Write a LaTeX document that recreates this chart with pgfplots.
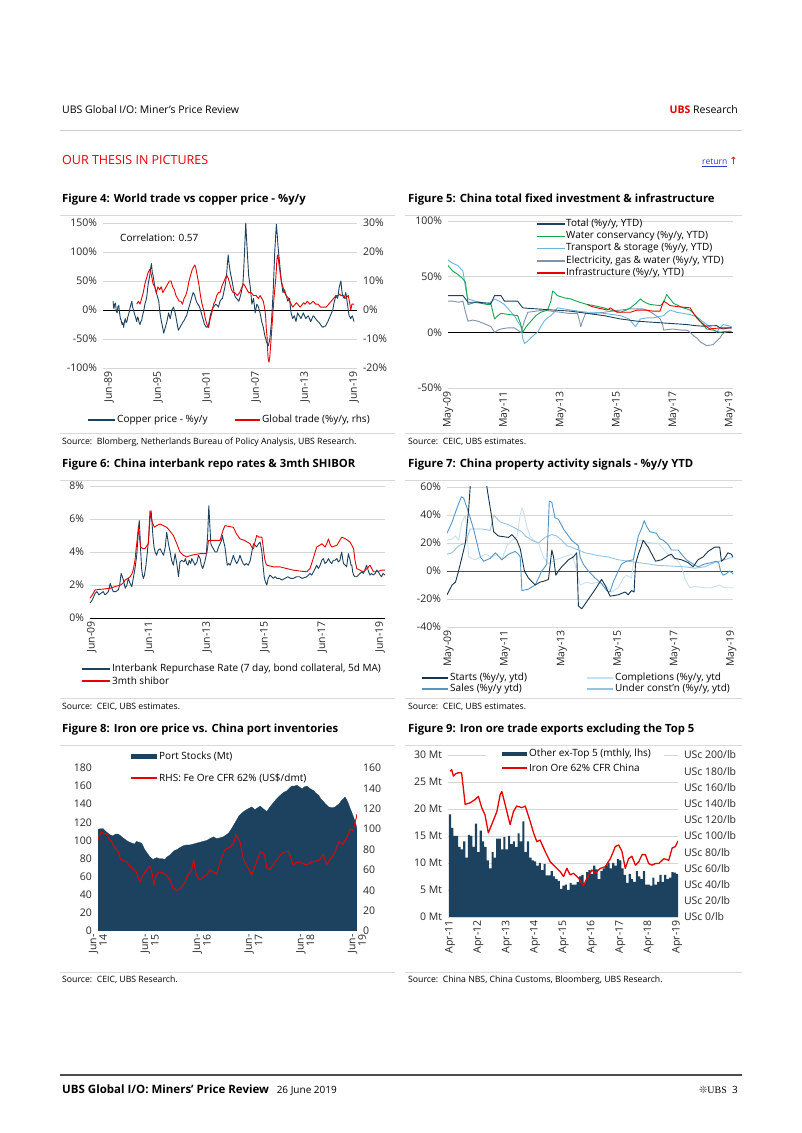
\documentclass[border=0pt]{standalone}
\usepackage{fontspec}
\setmainfont{Open Sans}
\newfontfamily\dejavu{DejaVu Sans}
\newfontfamily\serifub{Liberation Serif}
\usepackage{pgfplots}
\pgfplotsset{compat=1.18}
\definecolor{ubsred}{RGB}{230,0,0}
\definecolor{navy}{RGB}{29,66,96}
\definecolor{cgreen}{RGB}{20,165,80}
\definecolor{ctrans}{RGB}{110,180,225}
\definecolor{celec}{RGB}{130,145,170}
\definecolor{cstarts}{RGB}{22,52,78}
\definecolor{csales}{RGB}{85,150,200}
\definecolor{ccompl}{RGB}{200,225,242}
\definecolor{cunder}{RGB}{150,195,228}
\definecolor{linkblue}{RGB}{40,60,200}
\pgfplotsset{
 base/.style={scale only axis, anchor=south west, axis lines*=left, axis line style={draw=none},
   major tick length=0pt, tick label style={font=\fontsize{10.5}{12}\selectfont, text=black!85},
   xticklabel style={rotate=90, anchor=east}, yticklabel style={xshift=-2.5pt},
   major grid style={line width=0.5pt, black!16},
   every axis plot/.append style={line width=0.9pt, line join=round, mark=none}},
 rightax/.style={axis y line*=right, axis x line=none, xtick=\empty, yticklabel style={xshift=5pt}},
 zeroline/.style={extra y ticks={0}, extra y tick labels={}, extra y tick style={grid=major, major grid style={#1, line width=0.9pt}}},
}
\begin{document}
\begin{tikzpicture}
\begin{scope}[x=1pt,y=1pt]
\path[use as bounding box] (0,0) rectangle (802,1133);
\fill[white] (0,0) rectangle (802,1133);
% header
\node[anchor=base west, inner sep=0, font=\fontsize{10.5}{12}\selectfont] at (62,1019) {UBS Global I/O: Miner's Price Review};
\node[anchor=base east, inner sep=0, font=\fontsize{10.5}{12}\selectfont] at (738,1019) {\textcolor{ubsred}{\textbf{UBS}} Research};
\draw[black!20, line width=0.6pt] (60,1003) -- (742,1003);
\node[anchor=base west, inner sep=0, font=\fontsize{12.5}{14}\selectfont, text=ubsred] at (62,968) {OUR THESIS IN PICTURES};
\node[anchor=base east, inner sep=0, font=\fontsize{8.5}{10}\selectfont] at (738,968) {\textcolor{linkblue}{\underline{return}} \textcolor{ubsred}{\dejavu\fontsize{10}{11}\selectfont ↑}};
% titles
\foreach \xx/\yy/\tt in {62/930/{Figure 4: World trade vs copper price - \%y/y},408/930/{Figure 5: China total fixed investment \& infrastructure},62/665/{Figure 6: China interbank repo rates \& 3mth SHIBOR},408/665/{Figure 7: China property activity signals - \%y/y YTD},62/400/{Figure 8: Iron ore price vs. China port inventories},408/400/{Figure 9: Iron ore trade exports excluding the Top 5}}
  {\node[anchor=base west, inner sep=0, font=\bfseries\fontsize{11.3}{13}\selectfont] at (\xx,\yy) {\tt};}
\foreach \yy in {918,700,653,435,388,161}{
  \draw[black!15, line width=0.6pt] (60,\yy) -- (395,\yy);
  \draw[black!15, line width=0.6pt] (405,\yy) -- (742,\yy);}
\begin{scope}[every node/.style={anchor=base west, inner sep=0, font=\fontsize{8.7}{10}\selectfont}]
\node at (62,688) {Source:\ \ Blomberg, Netherlands Bureau of Policy Analysis, UBS Research.};
\node at (408,688) {Source:\ \ CEIC, UBS estimates.};
\node at (62,423) {Source:\ \ CEIC, UBS estimates.};
\node at (408,423) {Source:\ \ CEIC, UBS estimates.};
\node at (62,150) {Source:\ \ CEIC, UBS Research.};
\node at (408,150) {Source:\ \ China NBS, China Customs, Bloomberg, UBS Research.};
\end{scope}
% footer
\draw[black!70, line width=1.3pt] (60,58) -- (742,58);
\node[anchor=base west, inner sep=0] at (62,39) {{\bfseries\fontsize{11.5}{13}\selectfont UBS Global I/O: Miners' Price Review}\ \ \ {\fontsize{10}{12}\selectfont 26 June 2019}};
\node[anchor=base east, inner sep=0, font=\fontsize{10}{12}\selectfont] at (738,39) {{\dejavu\fontsize{10}{11}\selectfont\textcolor{black!70}{❊}}{\serifub UBS}\ \ 3};
\end{scope}

%================ Figure 4 =================
\begin{axis}[base, at={(103pt,765pt)}, width=254pt, height=145pt,
  xmin=1988.77, xmax=2019.87, ymin=-100, ymax=150,
  ytick={-100,-50,0,50,100,150}, yticklabels={-100\%,-50\%,0\%,50\%,100\%,150\%},
  xtick={1989.5,1995.5,2001.5,2007.5,2013.5,2019.5}, xticklabels={Jun-89,Jun-95,Jun-01,Jun-07,Jun-13,Jun-19},
  ymajorgrids, zeroline=black]
\addplot[navy] coordinates {
(1990.0,15)(1990.1,2)(1990.2,10)(1990.3,12)(1990.4,-2)(1990.5,-5)(1990.6,6)(1990.7,8)(1990.8,-5)(1990.9,-15)(1991.0,-18)(1991.1,-25)(1991.2,-22)(1991.3,-30)(1991.4,-20)(1991.5,-15)(1991.6,-22)(1991.7,-20)(1991.8,-12)(1991.9,-8)(1992.0,-2)(1992.1,5)(1992.2,10)(1992.3,15)(1992.4,5)(1992.5,0)(1992.6,-5)(1992.7,-10)(1992.8,-15)(1992.9,-20)(1993.0,-12)(1993.1,-15)(1993.2,-22)(1993.3,-25)(1993.4,-20)(1993.5,-18)(1993.6,-10)(1993.7,-5)(1993.8,2)(1993.9,10)(1994.0,15)(1994.1,20)(1994.2,32)(1994.3,45)(1994.4,52)(1994.5,60)(1994.6,72)(1994.7,80)(1994.8,65)(1994.9,60)(1995.0,50)(1995.1,42)(1995.2,35)(1995.3,30)(1995.4,25)(1995.5,20)(1995.6,15)(1995.7,0)(1995.8,-10)(1995.9,-18)(1996.0,-25)(1996.1,-32)(1996.2,-40)(1996.3,-35)(1996.4,-30)(1996.5,-25)(1996.6,-20)(1996.7,-12)(1996.8,-5)(1996.9,-10)(1997.0,-15)(1997.1,-8)(1997.2,0)(1997.3,2)(1997.4,5)(1997.5,0)(1997.6,-5)(1997.7,-12)(1997.8,-20)(1997.9,-28)(1998.0,-35)(1998.1,-32)(1998.2,-30)(1998.3,-27)(1998.4,-25)(1998.5,-22)(1998.6,-20)(1998.7,-18)(1998.8,-15)(1998.9,-12)(1999.0,-10)(1999.1,-5)(1999.2,0)(1999.3,5)(1999.4,10)(1999.5,15)(1999.6,20)(1999.7,25)(1999.8,30)(1999.9,28)(2000.0,25)(2000.1,20)(2000.2,15)(2000.3,12)(2000.4,10)(2000.5,8)(2000.6,5)(2000.7,0)(2000.8,-5)(2000.9,-10)(2001.0,-15)(2001.1,-20)(2001.2,-25)(2001.35,-28)(2001.5,-30)(2001.6,-28)(2001.7,-25)(2001.8,-18)(2001.9,-10)(2002.0,-5)(2002.1,0)(2002.2,3)(2002.3,5)(2002.45,8)(2002.6,10)(2002.75,8)(2002.9,5)(2003.0,10)(2003.1,15)(2003.25,18)(2003.4,20)(2003.55,30)(2003.7,40)(2003.8,50)(2003.9,60)(2004.0,80)(2004.1,95)(2004.2,80)(2004.3,70)(2004.4,62)(2004.5,55)(2004.6,48)(2004.7,40)(2004.8,32)(2004.9,25)(2005.0,22)(2005.1,20)(2005.25,18)(2005.4,15)(2005.55,22)(2005.7,30)(2005.8,38)(2005.9,45)(2006.0,70)(2006.1,100)(2006.17,125)(2006.25,150)(2006.32,130)(2006.4,110)(2006.5,85)(2006.6,60)(2006.7,50)(2006.8,40)(2006.9,25)(2007.0,10)(2007.1,15)(2007.2,20)(2007.3,8)(2007.4,-5)(2007.5,2)(2007.6,10)(2007.7,8)(2007.8,5)(2007.9,0)(2008.0,-5)(2008.1,-12)(2008.2,-20)(2008.3,-25)(2008.4,-30)(2008.5,-38)(2008.6,-45)(2008.7,-50)(2008.8,-55)(2008.9,-58)(2009.0,-62)(2009.1,-56)(2009.2,-50)(2009.3,-35)(2009.4,-20)(2009.5,5)(2009.6,30)(2009.7,65)(2009.8,100)(2009.9,125)(2010.0,148)(2010.1,130)(2010.2,110)(2010.3,95)(2010.4,80)(2010.5,65)(2010.6,50)(2010.7,40)(2010.8,30)(2010.9,32)(2011.0,35)(2011.1,30)(2011.2,25)(2011.3,20)(2011.4,15)(2011.5,18)(2011.6,20)(2011.7,8)(2011.8,-5)(2011.9,-10)(2012.0,-15)(2012.1,-12)(2012.2,-10)(2012.3,-15)(2012.4,-20)(2012.5,-12)(2012.6,-5)(2012.7,-8)(2012.8,-10)(2012.9,-12)(2013.0,-15)(2013.15,-10)(2013.3,-5)(2013.45,-10)(2013.6,-15)(2013.75,-12)(2013.9,-10)(2014.05,-15)(2014.2,-20)(2014.35,-15)(2014.5,-10)(2014.65,-12)(2014.8,-15)(2014.95,-18)(2015.1,-20)(2015.25,-22)(2015.4,-25)(2015.55,-28)(2015.7,-30)(2015.85,-28)(2016.0,-28)(2016.15,-24)(2016.3,-20)(2016.45,-15)(2016.6,-10)(2016.75,-5)(2016.9,0)(2017.0,8)(2017.1,15)(2017.2,20)(2017.3,25)(2017.4,22)(2017.5,20)(2017.6,30)(2017.7,40)(2017.8,45)(2017.9,50)(2018.0,35)(2018.1,25)(2018.2,22)(2018.3,20)(2018.4,25)(2018.5,30)(2018.6,20)(2018.7,10)(2018.8,0)(2018.9,-10)(2019.0,-12)(2019.1,-15)(2019.2,-12)(2019.3,-10)(2019.4,-15)(2019.5,-20)};
\end{axis}
\begin{axis}[base, rightax, at={(103pt,765pt)}, width=254pt, height=145pt,
  xmin=1988.77, xmax=2019.87, ymin=-20, ymax=30,
  ytick={-20,-10,0,10,20,30}, yticklabels={-20\%,-10\%,0\%,10\%,20\%,30\%}]
\addplot[ubsred] coordinates {
(1992.9,2)(1993.0,2.5)(1993.1,3)(1993.2,2.5)(1993.3,2)(1993.4,3)(1993.5,4)(1993.6,5)(1993.7,6)(1993.8,7.5)(1993.9,9)(1994.0,10)(1994.1,11)(1994.2,12)(1994.3,13)(1994.4,13.5)(1994.5,14)(1994.6,13)(1994.7,12)(1994.8,10.5)(1994.9,9)(1995.0,8.5)(1995.1,8)(1995.2,7)(1995.3,6)(1995.4,7)(1995.5,8)(1995.6,7.5)(1995.7,7)(1995.8,7.5)(1995.9,8)(1996.0,7)(1996.1,6)(1996.2,6.5)(1996.3,7)(1996.4,7.5)(1996.5,8)(1996.6,8.5)(1996.7,9)(1996.8,9.5)(1996.9,10)(1997.0,10)(1997.1,10)(1997.2,9)(1997.3,8)(1997.4,7.5)(1997.5,7)(1997.6,6)(1997.7,5)(1997.8,4.5)(1997.9,4)(1998.0,3.5)(1998.1,3)(1998.2,3)(1998.3,3)(1998.4,2.5)(1998.5,2)(1998.6,3)(1998.7,4)(1998.8,4.5)(1998.9,5)(1999.0,6)(1999.1,7)(1999.2,8.5)(1999.3,10)(1999.4,11)(1999.5,12)(1999.6,13)(1999.7,14)(1999.8,14.5)(1999.9,15)(2000.0,15.5)(2000.1,15)(2000.2,13.5)(2000.3,12)(2000.4,10.5)(2000.5,9)(2000.6,7)(2000.7,5)(2000.8,3.5)(2000.9,2)(2001.0,1)(2001.1,0)(2001.2,-1.5)(2001.3,-3)(2001.4,-4)(2001.5,-5)(2001.6,-5.5)(2001.7,-6)(2001.8,-4.5)(2001.9,-3)(2002.0,-2)(2002.1,-1)(2002.2,0.5)(2002.3,2)(2002.4,2.5)(2002.5,3)(2002.6,4)(2002.7,5)(2002.8,5.5)(2002.9,6)(2003.0,6)(2003.1,6)(2003.2,7)(2003.3,8)(2003.45,9)(2003.6,10)(2003.75,11)(2003.9,12)(2004.0,11.5)(2004.1,11)(2004.2,10)(2004.3,9)(2004.4,8)(2004.5,7)(2004.6,6.5)(2004.7,6)(2004.8,6)(2004.9,6)(2005.05,5.5)(2005.2,5)(2005.35,5.5)(2005.5,6)(2005.65,7)(2005.8,8)(2005.9,8.5)(2006.0,9)(2006.1,8.5)(2006.2,8)(2006.3,7.5)(2006.4,7)(2006.5,6.5)(2006.6,6)(2006.75,6)(2006.9,6)(2007.05,5.5)(2007.2,5)(2007.35,5)(2007.5,5)(2007.65,4.5)(2007.8,4)(2007.9,4.5)(2008.0,5)(2008.1,4.5)(2008.2,4)(2008.3,3.5)(2008.4,3)(2008.5,1.5)(2008.6,0)(2008.7,-3)(2008.75,-6)(2008.85,-9)(2008.9,-12)(2008.95,-15)(2009.0,-17)(2009.1,-18)(2009.2,-16)(2009.3,-12)(2009.35,-10)(2009.45,-6)(2009.5,-4)(2009.6,0)(2009.7,4)(2009.8,7)(2009.9,10)(2010.0,14)(2010.05,17)(2010.15,19)(2010.2,19)(2010.3,16)(2010.4,14)(2010.5,12)(2010.6,10)(2010.7,9)(2010.8,8)(2010.9,7)(2011.0,6)(2011.1,5.5)(2011.2,5)(2011.35,4.5)(2011.5,4)(2011.65,3)(2011.8,2)(2011.9,1.5)(2012.0,1)(2012.15,1.5)(2012.3,2)(2012.45,2.5)(2012.6,2)(2012.75,1.5)(2012.9,1)(2013.05,1.5)(2013.2,2)(2013.35,2.5)(2013.5,2)(2013.65,2.5)(2013.8,3)(2013.95,2.5)(2014.1,2)(2014.3,2.5)(2014.5,3)(2014.65,2.5)(2014.8,2)(2014.95,2)(2015.1,2)(2015.25,1.5)(2015.4,1)(2015.6,1)(2015.8,1)(2015.95,1)(2016.1,1)(2016.25,1.5)(2016.4,2)(2016.55,2.5)(2016.7,3)(2016.85,3.5)(2017.0,4)(2017.15,4.5)(2017.3,5)(2017.45,5)(2017.6,5)(2017.75,5.5)(2017.9,5)(2018.05,5)(2018.2,5)(2018.35,4.5)(2018.5,4)(2018.65,4.5)(2018.8,5)(2018.9,3.5)(2019.0,2)(2019.05,1)(2019.1,0)(2019.18,1)(2019.25,2)(2019.4,2)(2019.5,2)};
\end{axis}

%================ Figure 5 =================
\begin{axis}[base, at={(448pt,745pt)}, width=285pt, height=167pt,
  xmin=2009.33, xmax=2019.44, ymin=-50, ymax=100,
  ytick={-50,0,50,100}, yticklabels={-50\%,0\%,50\%,100\%},
  xtick={2009.33,2011.33,2013.33,2015.33,2017.33,2019.33}, xticklabels={May-09,May-11,May-13,May-15,May-17,May-19},
  ymajorgrids, zeroline=black]
\addplot[celec] coordinates {(2009.33,28)(2009.5,28)(2009.7,27)(2009.86,28)(2009.95,18)(2010.04,10)(2010.2,11)(2010.39,10)(2010.6,8)(2010.86,5)(2010.98,0)(2011.1,2)(2011.21,3)(2011.45,4)(2011.68,4)(2011.92,0)(2012.04,10)(2012.16,18)(2012.45,19)(2012.74,20)(2013.0,19)(2013.33,18)(2013.6,17)(2013.92,17)(2014.0,10)(2014.04,5)(2014.1,10)(2014.21,17)(2014.5,17)(2014.86,18)(2015.15,19)(2015.45,20)(2015.75,21)(2016.04,21)(2016.25,21)(2016.39,20)(2016.6,17)(2016.86,12)(2016.95,6)(2016.98,2)(2017.3,3)(2017.6,2)(2017.80,2)(2017.92,0)(2018.04,-3)(2018.15,-5)(2018.3,-9)(2018.51,-12)(2018.74,-11)(2018.85,-8)(2018.98,-5)(2019.05,-2)(2019.15,0)(2019.3,1)(2019.39,1)};
\addplot[ctrans] coordinates {(2009.33,65)(2009.5,62)(2009.68,60)(2009.86,55)(2009.95,40)(2010.04,30)(2010.3,28)(2010.5,27)(2010.74,25)(2010.98,30)(2011.15,28)(2011.33,25)(2011.5,20)(2011.68,15)(2011.8,10)(2011.92,5)(2011.98,-5)(2012.04,-10)(2012.15,-8)(2012.27,-5)(2012.4,-2)(2012.51,0)(2012.62,5)(2012.74,10)(2012.86,13)(2012.98,15)(2013.1,18)(2013.21,22)(2013.45,21)(2013.68,20)(2013.95,19)(2014.27,18)(2014.55,18)(2014.86,17)(2015.15,16)(2015.45,15)(2015.75,12)(2015.98,5)(2016.08,9)(2016.15,12)(2016.4,13)(2016.62,13)(2016.8,14)(2016.98,15)(2017.1,18)(2017.21,20)(2017.45,18)(2017.68,17)(2017.9,16)(2018.15,14)(2018.35,10)(2018.62,5)(2018.75,2)(2018.86,0)(2018.98,4)(2019.09,7)(2019.25,6)(2019.39,5)};
\addplot[cgreen] coordinates {(2009.33,60)(2009.5,55)(2009.68,52)(2009.86,48)(2009.95,45)(2010.04,25)(2010.3,27)(2010.5,26)(2010.74,25)(2010.86,25)(2010.98,12)(2011.1,15)(2011.21,17)(2011.5,16)(2011.80,15)(2011.9,8)(2011.98,0)(2012.1,5)(2012.27,10)(2012.45,15)(2012.62,18)(2012.86,20)(2012.98,28)(2013.04,37)(2013.1,36)(2013.21,33)(2013.45,31)(2013.68,30)(2014.0,27)(2014.27,25)(2014.5,24)(2014.86,22)(2015.09,20)(2015.45,18)(2015.65,20)(2015.80,22)(2016.0,26)(2016.15,30)(2016.25,28)(2016.39,26)(2016.51,25)(2016.86,24)(2016.98,27)(2017.09,34)(2017.15,32)(2017.21,30)(2017.33,26)(2017.5,24)(2017.68,22)(2017.92,20)(2018.04,17)(2018.15,14)(2018.27,10)(2018.4,6)(2018.51,3)(2018.74,2)(2018.98,0)(2019.2,1)(2019.39,1)};
\addplot[navy] coordinates {(2009.33,33)(2009.6,33)(2009.86,33)(2009.95,30)(2010.04,27)(2010.4,27)(2010.86,26)(2010.98,33)(2011.21,33)(2011.33,28)(2011.6,28)(2011.80,28)(2011.98,22)(2012.2,21.5)(2012.51,21)(2012.8,20.5)(2013.09,20)(2013.4,19.5)(2013.68,19)(2013.98,18)(2014.27,17)(2014.56,16)(2014.86,15)(2015.15,13.5)(2015.45,12)(2015.75,11)(2016.04,10)(2016.33,9.5)(2016.62,9)(2016.92,8.5)(2017.21,8)(2017.5,7.5)(2017.80,7)(2018.1,6)(2018.39,5.5)(2018.6,5.8)(2018.86,6)(2018.98,4)(2019.09,3)(2019.25,3.8)(2019.39,4)};
\addplot[ubsred] coordinates {(2014.27,25)(2014.45,23)(2014.62,22)(2014.8,21)(2014.98,20)(2015.09,22)(2015.2,20)(2015.33,18)(2015.55,18)(2015.80,18)(2016.04,20)(2016.3,20)(2016.62,19)(2016.85,19)(2016.98,28)(2017.1,26)(2017.21,24)(2017.5,23)(2017.92,22)(2018.04,17)(2018.15,13)(2018.27,10)(2018.45,6)(2018.62,3)(2018.8,3.5)(2018.98,4)(2019.2,4)(2019.39,4)};
\end{axis}

%================ Figure 6 =================
\begin{axis}[base, at={(90pt,515pt)}, width=295pt, height=132pt,
  xmin=2009.44, xmax=2019.67, ymin=0, ymax=8,
  ytick={0,2,4,6,8}, yticklabels={0\%,2\%,4\%,6\%,8\%},
  xtick={2009.5,2011.5,2013.5,2015.5,2017.5,2019.5}, xticklabels={Jun-09,Jun-11,Jun-13,Jun-15,Jun-17,Jun-19},
  ymajorgrids, zeroline=black, clip=false]
\addplot[navy] coordinates {(2009.44,0.9)(2009.52,1.1)(2009.62,1.5)(2009.68,1.6)(2009.75,1.4)(2009.82,1.5)(2009.90,1.6)(2009.96,1.4)(2010.02,1.5)(2010.08,1.6)(2010.14,2.1)(2010.2,1.8)(2010.25,1.6)(2010.33,1.6)(2010.42,1.7)(2010.47,2.0)(2010.52,2.7)(2010.56,2.5)(2010.60,2.3)(2010.66,1.8)(2010.72,2.0)(2010.77,2.4)(2010.83,2.1)(2010.89,1.9)(2010.95,2.5)(2011.0,3.0)(2011.06,3.8)(2011.1,4.8)(2011.12,5.5)(2011.15,5.9)(2011.18,4.8)(2011.20,4.0)(2011.23,3.0)(2011.26,2.6)(2011.29,2.4)(2011.33,2.6)(2011.38,3.2)(2011.43,4.0)(2011.48,5.0)(2011.52,6.0)(2011.56,6.5)(2011.59,5.8)(2011.62,5.0)(2011.66,4.3)(2011.70,4.0)(2011.75,3.8)(2011.80,4.1)(2011.87,4.2)(2011.93,4.0)(2011.99,3.8)(2012.05,4.3)(2012.10,5.2)(2012.16,4.5)(2012.22,4.0)(2012.27,3.5)(2012.33,3.2)(2012.39,3.9)(2012.45,3.3)(2012.51,2.5)(2012.56,3.4)(2012.62,3.5)(2012.70,3.4)(2012.75,3.6)(2012.79,3.3)(2012.84,3.2)(2012.88,3.5)(2012.93,3.3)(2012.97,3.6)(2013.03,3.4)(2013.08,3.2)(2013.15,3.4)(2013.2,3.8)(2013.26,3.6)(2013.3,3.2)(2013.35,3.0)(2013.42,3.4)(2013.47,3.8)(2013.52,5.0)(2013.56,6.8)(2013.59,5.8)(2013.63,4.5)(2013.68,4.3)(2013.72,4.2)(2013.78,4.0)(2013.84,4.0)(2013.9,4.3)(2013.95,4.5)(2014.0,4.7)(2014.03,5.0)(2014.08,4.6)(2014.12,4.3)(2014.17,3.6)(2014.20,3.2)(2014.25,3.3)(2014.30,3.2)(2014.36,3.5)(2014.41,3.8)(2014.47,3.5)(2014.53,3.3)(2014.59,3.5)(2014.64,3.8)(2014.70,3.5)(2014.75,3.3)(2014.80,3.2)(2014.86,3.3)(2014.93,3.2)(2015.0,3.5)(2015.05,4.0)(2015.11,4.5)(2015.17,4.4)(2015.22,4.3)(2015.28,4.5)(2015.34,4.6)(2015.40,4.0)(2015.44,3.2)(2015.48,2.5)(2015.52,2.2)(2015.57,2.0)(2015.62,2.4)(2015.68,2.6)(2015.74,2.5)(2015.80,2.4)(2015.86,2.5)(2015.92,2.4)(2016.0,2.4)(2016.1,2.3)(2016.2,2.4)(2016.3,2.5)(2016.4,2.4)(2016.49,2.4)(2016.6,2.5)(2016.7,2.5)(2016.8,2.4)(2016.96,2.5)(2017.07,2.7)(2017.13,2.6)(2017.19,2.8)(2017.25,3.0)(2017.30,3.2)(2017.36,3.0)(2017.42,3.2)(2017.48,3.5)(2017.53,3.6)(2017.59,3.3)(2017.65,3.4)(2017.71,3.6)(2017.77,3.4)(2017.82,3.3)(2017.88,3.5)(2017.94,3.5)(2018.0,3.6)(2018.05,3.4)(2018.11,3.5)(2018.14,3.8)(2018.17,4.0)(2018.2,3.6)(2018.23,3.3)(2018.29,3.2)(2018.34,3.1)(2018.37,3.5)(2018.40,3.9)(2018.43,3.7)(2018.46,3.5)(2018.49,3.2)(2018.52,3.2)(2018.55,2.8)(2018.58,2.6)(2018.63,2.5)(2018.69,2.5)(2018.75,2.6)(2018.80,2.7)(2018.86,2.8)(2018.92,2.7)(2018.97,2.9)(2019.03,3.2)(2019.07,3.0)(2019.1,2.8)(2019.15,2.6)(2019.2,2.7)(2019.27,2.6)(2019.33,2.7)(2019.38,2.9)(2019.44,2.8)(2019.5,2.6)(2019.55,2.5)(2019.6,2.7)(2019.67,2.6)};
\addplot[ubsred] coordinates {(2009.44,1.2)(2009.52,1.4)(2009.62,1.7)(2009.75,1.73)(2009.9,1.75)(2010.02,1.78)(2010.14,1.8)(2010.3,1.9)(2010.5,2.0)(2010.58,2.1)(2010.66,2.3)(2010.75,2.4)(2010.83,2.5)(2010.9,2.7)(2010.95,3.0)(2011.0,3.5)(2011.04,4.2)(2011.08,4.8)(2011.12,5.5)(2011.16,4.8)(2011.20,4.3)(2011.28,4.2)(2011.35,4.2)(2011.42,4.4)(2011.47,4.5)(2011.49,5.5)(2011.52,6.5)(2011.56,6.1)(2011.60,5.8)(2011.67,5.5)(2011.75,5.6)(2011.87,5.7)(2011.98,5.6)(2012.10,5.5)(2012.2,5.3)(2012.33,5.0)(2012.45,4.5)(2012.56,4.0)(2012.68,3.8)(2012.79,3.7)(2012.95,3.8)(2013.1,3.85)(2013.26,3.9)(2013.4,3.9)(2013.49,3.9)(2013.52,4.3)(2013.55,4.7)(2013.75,4.7)(2013.95,4.7)(2014.05,5.3)(2014.12,5.6)(2014.25,5.55)(2014.41,5.5)(2014.52,5.1)(2014.64,4.8)(2014.8,4.7)(2014.99,4.5)(2015.05,4.3)(2015.11,4.2)(2015.16,4.6)(2015.22,5.0)(2015.30,4.9)(2015.40,4.9)(2015.44,4.4)(2015.48,3.8)(2015.52,3.4)(2015.57,3.2)(2015.8,3.1)(2016.03,3.1)(2016.25,3.0)(2016.49,2.9)(2016.7,2.85)(2016.96,2.8)(2017.07,3.0)(2017.18,3.6)(2017.30,4.3)(2017.4,4.4)(2017.48,4.5)(2017.54,4.4)(2017.59,4.3)(2017.65,4.5)(2017.71,4.8)(2017.76,4.5)(2017.82,4.3)(2017.9,4.35)(2018.00,4.4)(2018.1,4.7)(2018.17,4.9)(2018.3,4.8)(2018.46,4.6)(2018.52,4.4)(2018.58,4.2)(2018.63,3.5)(2018.69,3.0)(2018.8,2.9)(2018.92,2.8)(2019.05,3.0)(2019.15,3.2)(2019.21,3.0)(2019.27,2.8)(2019.4,2.8)(2019.55,2.9)(2019.67,2.9)};
\end{axis}

%================ Figure 7 =================
\begin{axis}[base, at={(447pt,506pt)}, width=286pt, height=140pt,
  xmin=2009.27, xmax=2019.39, ymin=-40, ymax=60,
  ytick={-40,-20,0,20,40,60}, yticklabels={-40\%,-20\%,0\%,20\%,40\%,60\%},
  xtick={2009.33,2011.33,2013.33,2015.33,2017.33,2019.33}, xticklabels={May-09,May-11,May-13,May-15,May-17,May-19},
  ymajorgrids, zeroline=black!70]
\addplot[ccompl] coordinates {(2009.27,22)(2009.45,23)(2009.57,25)(2009.68,22)(2009.80,35)(2009.92,40)(2010.04,10)(2010.15,9)(2010.27,8)(2010.45,10)(2010.62,12)(2010.86,10)(2011.04,12)(2011.21,8)(2011.39,18)(2011.57,22)(2011.74,24)(2011.86,40)(2011.92,45)(2011.98,42)(2012.09,32)(2012.21,25)(2012.33,22)(2012.51,20)(2012.68,10)(2012.86,5)(2013.09,8)(2013.39,10)(2013.68,12)(2013.80,5)(2013.98,-10)(2014.21,-8)(2014.39,-9)(2014.62,-8)(2014.86,-10)(2015.09,-15)(2015.33,-12)(2015.51,-5)(2015.62,-3)(2015.80,-5)(2015.92,15)(2016.04,22)(2016.51,20)(2016.74,20)(2017.04,13)(2017.21,10)(2017.45,7)(2017.57,3)(2017.68,-5)(2017.86,-12)(2018.04,-11)(2018.39,-12)(2018.62,-12)(2018.92,-10)(2019.09,-12)(2019.39,-12)};
\addplot[cunder] coordinates {(2009.27,12)(2009.45,13)(2009.68,18)(2009.92,20)(2010.09,30)(2010.51,30)(2010.80,29)(2010.92,40)(2011.15,35)(2011.45,33)(2011.74,30)(2011.92,28)(2012.04,25)(2012.27,22)(2012.51,20)(2012.74,24)(2012.98,26)(2013.15,25)(2013.33,22)(2013.51,18)(2013.68,17)(2013.92,15)(2014.15,13)(2014.39,12)(2014.62,11)(2014.98,10)(2015.33,8)(2015.68,7)(2016.04,6)(2016.39,5)(2016.74,4)(2017.21,3.5)(2017.68,3)(2018.04,2)(2018.39,3)(2018.74,6)(2019.09,8)(2019.39,10)};
\addplot[csales] coordinates {(2009.27,27)(2009.45,35)(2009.57,42)(2009.68,48)(2009.78,53)(2009.86,52)(2009.98,45)(2010.09,38)(2010.21,30)(2010.33,20)(2010.45,10)(2010.57,7)(2010.80,9)(2010.98,13)(2011.21,8)(2011.33,10)(2011.45,12)(2011.68,14)(2011.80,12)(2011.86,10)(2011.92,-14)(2012.15,-13)(2012.39,-10)(2012.51,-5)(2012.62,0)(2012.74,3)(2012.80,5)(2012.89,50)(2012.98,49)(2013.09,38)(2013.21,37)(2013.39,30)(2013.57,25)(2013.68,22)(2013.92,18)(2013.98,10)(2014.09,5)(2014.27,0)(2014.51,-5)(2014.74,-9)(2014.92,-14)(2015.04,-15)(2015.15,-8)(2015.33,0)(2015.45,5)(2015.62,7)(2015.86,8)(2016.04,25)(2016.15,30)(2016.25,36)(2016.33,32)(2016.45,28)(2016.68,27)(2016.80,23)(2016.92,22)(2017.09,19)(2017.21,15)(2017.45,15)(2017.57,12)(2017.74,8)(2017.98,5)(2018.15,3)(2018.39,5)(2018.62,6)(2018.80,7)(2018.88,6)(2018.95,0)(2019.04,-3)(2019.15,-2)(2019.27,0)(2019.39,-2)};
\addplot[cstarts] coordinates {(2009.27,-17)(2009.45,-10)(2009.57,-8)(2009.68,0)(2009.80,10)(2009.92,20)(2010.04,45)(2010.09,60)(2010.2,85)(2010.5,90)(2010.62,75)(2010.68,60)(2010.84,40)(2010.92,28)(2011.09,25)(2011.45,24)(2011.57,26)(2011.74,22)(2011.86,16)(2012.01,0)(2012.15,-5)(2012.39,-10)(2012.56,-8)(2012.74,-7)(2012.86,-6)(2012.98,15)(2013.04,10)(2013.12,-3)(2013.21,0)(2013.33,3)(2013.57,8)(2013.74,10)(2013.86,13)(2013.88,0)(2013.92,-25)(2014.04,-27)(2014.21,-22)(2014.45,-15)(2014.68,-8)(2014.74,-6)(2014.86,-10)(2015.04,-18)(2015.33,-17)(2015.57,-15)(2015.68,-17)(2015.80,-14)(2015.89,-15)(2015.94,5)(2016.04,12)(2016.15,18)(2016.21,22)(2016.39,17)(2016.57,10)(2016.65,7)(2016.86,8)(2017.09,11)(2017.21,12)(2017.33,9)(2017.57,8)(2017.80,6)(2017.98,3)(2018.15,8)(2018.33,10)(2018.51,14)(2018.74,17)(2018.92,17)(2018.98,7)(2019.09,9)(2019.21,13)(2019.33,12)(2019.39,10)};
\end{axis}

%================ Figure 8 =================
\begin{axis}[base, at={(98pt,202pt)}, width=259pt, height=163pt,
  xmin=2014.5, xmax=2019.5, ymin=0, ymax=180,
  ytick={0,20,40,60,80,100,120,140,160,180}, yticklabels={0,20,40,60,80,100,120,140,160,180},
  xtick={2014.5,2015.5,2016.5,2017.5,2018.5,2019.5}, xticklabels={{Jun-\\14},{Jun-\\15},{Jun-\\16},{Jun-\\17},{Jun-\\18},{Jun-\\19}},
  xticklabel style={align=right, font=\fontsize{10.5}{10.5}\selectfont}]
\addplot[fill=navy, draw=navy, line width=0.3pt] coordinates {(2014.5,112)(2014.55,113)(2014.6,113)(2014.65,110)(2014.69,108)(2014.74,106)(2014.79,105)(2014.84,107)(2014.89,107)(2014.94,105)(2014.98,103)(2015.05,100)(2015.11,98)(2015.16,97)(2015.21,96)(2015.24,99)(2015.29,98)(2015.34,97)(2015.37,94)(2015.40,90)(2015.45,86)(2015.5,82)(2015.56,79)(2015.63,81)(2015.68,80)(2015.73,80)(2015.79,79)(2015.84,82)(2015.89,84)(2015.94,87)(2015.98,89)(2016.03,90)(2016.08,92)(2016.14,94)(2016.21,95)(2016.27,95)(2016.34,96)(2016.4,97)(2016.47,98)(2016.53,99)(2016.60,100)(2016.66,102)(2016.73,104)(2016.79,102)(2016.86,103)(2016.92,104)(2016.97,106)(2017.02,108)(2017.08,113)(2017.13,118)(2017.18,123)(2017.22,127)(2017.27,130)(2017.34,133)(2017.40,135)(2017.47,137)(2017.53,134)(2017.58,136)(2017.63,138)(2017.69,135)(2017.76,132)(2017.82,137)(2017.89,142)(2017.95,146)(2018.02,150)(2018.08,153)(2018.15,155)(2018.2,158)(2018.24,160)(2018.29,160)(2018.34,161)(2018.39,159)(2018.44,157)(2018.48,159)(2018.53,160)(2018.6,157)(2018.66,155)(2018.71,152)(2018.76,150)(2018.8,146)(2018.85,143)(2018.9,140)(2018.95,137)(2019.02,136)(2019.08,137)(2019.12,139)(2019.15,140)(2019.2,144)(2019.24,146)(2019.27,148)(2019.3,145)(2019.34,140)(2019.37,135)(2019.40,131)(2019.45,123)(2019.48,118)(2019.5,112)} \closedcycle;
\end{axis}
\begin{axis}[base, rightax, at={(98pt,202pt)}, width=259pt, height=163pt,
  xmin=2014.5, xmax=2019.5, ymin=0, ymax=160,
  ytick={0,20,40,60,80,100,120,140,160}, yticklabels={0,20,40,60,80,100,120,140,160}]
\addplot[ubsred] coordinates {(2014.5,90)(2014.53,94)(2014.56,97)(2014.6,96)(2014.66,95)(2014.71,91)(2014.76,88)(2014.82,82)(2014.86,80)(2014.89,78)(2014.92,73)(2014.95,70)(2015.0,69)(2015.05,68)(2015.1,65)(2015.15,62)(2015.2,60)(2015.24,58)(2015.28,52)(2015.31,48)(2015.34,52)(2015.37,55)(2015.41,58)(2015.44,60)(2015.47,62)(2015.5,64)(2015.53,60)(2015.55,55)(2015.58,45)(2015.6,50)(2015.63,55)(2015.66,57)(2015.69,58)(2015.75,57)(2015.82,55)(2015.86,52)(2015.89,50)(2015.92,46)(2015.95,42)(2015.99,41)(2016.02,40)(2016.06,41)(2016.11,43)(2016.15,46)(2016.18,48)(2016.21,52)(2016.24,55)(2016.28,58)(2016.31,60)(2016.33,66)(2016.35,70)(2016.37,62)(2016.40,55)(2016.44,52)(2016.47,50)(2016.53,53)(2016.60,55)(2016.63,58)(2016.66,60)(2016.72,58)(2016.79,56)(2016.84,64)(2016.89,72)(2016.92,76)(2016.95,80)(2017.0,81)(2017.05,82)(2017.08,84)(2017.11,85)(2017.14,90)(2017.16,95)(2017.2,91)(2017.24,88)(2017.27,80)(2017.31,70)(2017.36,65)(2017.42,60)(2017.45,57)(2017.47,55)(2017.52,62)(2017.56,68)(2017.6,73)(2017.63,78)(2017.67,77)(2017.71,75)(2017.74,68)(2017.76,62)(2017.79,61)(2017.82,60)(2017.86,63)(2017.89,65)(2017.94,69)(2017.98,72)(2018.03,75)(2018.08,77)(2018.13,78)(2018.18,78)(2018.22,72)(2018.27,65)(2018.33,67)(2018.40,68)(2018.46,66)(2018.53,65)(2018.6,67)(2018.66,68)(2018.72,69)(2018.79,70)(2018.82,73)(2018.85,75)(2018.88,70)(2018.92,65)(2018.96,69)(2019.01,72)(2019.05,75)(2019.08,78)(2019.12,84)(2019.15,88)(2019.19,86)(2019.23,85)(2019.27,89)(2019.31,92)(2019.34,96)(2019.37,100)(2019.4,99)(2019.42,98)(2019.45,104)(2019.47,108)(2019.49,112)(2019.5,115)};
\end{axis}

%================ Figure 9 =================
\begin{axis}[base, at={(448pt,216pt)}, width=230pt, height=162pt,
  xmin=-0.85, xmax=96.4, ymin=0, ymax=30,
  ytick={0,5,10,15,20,25,30}, yticklabels={0 Mt,5 Mt,10 Mt,15 Mt,20 Mt,25 Mt,30 Mt},
  xtick={0,12,24,36,48,60,72,84,96}, xticklabels={Apr-11,Apr-12,Apr-13,Apr-14,Apr-15,Apr-16,Apr-17,Apr-18,Apr-19},
  ymajorgrids]
\addplot[ybar, bar width=2.15pt, fill=navy, draw=none] coordinates {
(0,19)(1,16.5)(2,15)(3,15)(4,13)(5,12.5)(6,14)(7,11)(8,15.2)(9,15)(10,13)(11,17.3)
(12,12)(13,16)(14,14)(15,13)(16,10.5)(17,9)(18,12)(19,11)(20,14.5)(21,14.5)(22,12.5)(23,14.8)
(24,12.5)(25,15)(26,13.5)(27,14)(28,13)(29,15.5)(30,14)(31,17.7)(32,12)(33,14)(34,11)(35,10.5)
(36,10.3)(37,9.5)(38,10)(39,8.7)(40,9.8)(41,7.7)(42,7.7)(43,8.5)(44,7.5)(45,7)(46,6.7)(47,5.2)
(48,5.8)(49,6)(50,5)(51,6.3)(52,6)(53,6)(54,6.5)(55,7.5)(56,7.8)(57,6.3)(58,8.3)(59,8.7)
(60,8)(61,9.5)(62,8.8)(63,7)(64,8.5)(65,9)(66,9.5)(67,10)(68,9)(69,10)(70,9.5)(71,10.7)
(72,10.5)(73,9)(74,7.8)(75,6.3)(76,8)(77,7)(78,6.5)(79,8.5)(80,7.5)(81,7)(82,8.5)(83,6)
(84,6)(85,5.8)(86,7.3)(87,6)(88,6.5)(89,7.8)(90,6.5)(91,7.8)(92,7)(93,7.3)(94,8.3)(95,8.2)(96,8)};
\end{axis}
\begin{axis}[base, rightax, at={(448pt,216pt)}, width=230pt, height=162pt,
  xmin=-0.85, xmax=96.4, ymin=0, ymax=200,
  ytick={0,20,40,60,80,100,120,140,160,180,200}, yticklabels={USc 0/lb,USc 20/lb,USc 40/lb,USc 60/lb,USc 80/lb,USc 100/lb,USc 120/lb,USc 140/lb,USc 160/lb,USc 180/lb,USc 200/lb}]
\addplot[ubsred, line width=1.3pt] coordinates {(0,180)(0.7,182)(1.4,174)(2.5,177)(3.5,178)(4.9,178)(5.6,160)(6.4,139)(8.5,141)(10.6,145)(12.0,149)(13.4,135)(14.8,126)(16.2,104)(17.6,114)(19.8,130)(21.2,151)(21.9,155)(23.3,139)(25.4,114)(26.8,130)(28.2,137)(30.4,135)(31.8,137)(33.9,118)(35.3,104)(36.7,93)(38.1,95)(40.2,81)(42.4,68)(44.5,62)(46.6,56)(48.0,50)(49.4,60)(50.8,52)(52.2,54)(54.4,48)(55.8,41)(56.5,39)(57.9,48)(60.0,58)(61.4,54)(63.5,60)(65.6,62)(67.8,72)(69.9,87)(71.3,89)(72.7,81)(74.1,60)(75.5,72)(76.9,75)(78.4,64)(79.8,68)(81.2,77)(82.6,77)(84.0,66)(85.4,64)(86.8,66)(88.2,66)(90.4,72)(92.5,70)(93.9,85)(95.3,87)(96.4,94)};
\end{axis}

% legends
\begin{scope}[x=1pt,y=1pt, font=\fontsize{10}{12}\selectfont]
\node[anchor=west, inner sep=0] at (120,895) {Correlation: 0.57};
% fig 4
\draw[navy, line width=1.2pt] (88,713) -- (115,713);
\node[anchor=west, inner sep=0] at (117,713) {Copper price - \%y/y};
\draw[ubsred, line width=1.2pt] (235,713) -- (260,713);
\node[anchor=west, inner sep=0] at (262,713) {Global trade (\%y/y, rhs)};
% fig 5
\foreach \cc/\yy/\tt in {navy/909/{Total (\%y/y, YTD)},cgreen/896.5/{Water conservancy (\%y/y, YTD)},ctrans/884.5/{Transport \& storage (\%y/y, YTD)},celec/872/{Electricity, gas \& water (\%y/y, YTD)},ubsred/860/{Infrastructure (\%y/y, YTD)}}{
  \draw[\cc, line width=1.2pt] (537,\yy) -- (565,\yy);
  \node[anchor=west, inner sep=0] at (566,\yy) {\tt};}
% fig 6
\draw[navy, line width=1.2pt] (82,464) -- (110,464);
\node[anchor=west, inner sep=0] at (112,464) {Interbank Repurchase Rate (7 day, bond collateral, 5d MA)};
\draw[ubsred, line width=1.2pt] (82,452) -- (110,452);
\node[anchor=west, inner sep=0] at (112,452) {3mth shibor};
% fig 7
\draw[cstarts, line width=1.2pt] (422,455) -- (448,455);
\node[anchor=west, inner sep=0] at (450,455) {Starts (\%y/y, ytd)};
\draw[csales, line width=1.2pt] (422,444) -- (448,444);
\node[anchor=west, inner sep=0] at (450,444) {Sales (\%y/y ytd)};
\draw[ccompl, line width=1.2pt] (587,455) -- (613,455);
\node[anchor=west, inner sep=0] at (615,455) {Completions (\%y/y, ytd};
\draw[cunder, line width=1.2pt] (587,444) -- (613,444);
\node[anchor=west, inner sep=0] at (615,444) {Under const'n (\%y/y, ytd)};
% fig 8
\fill[navy] (131,374) rectangle (157,379);
\node[anchor=west, inner sep=0] at (159,376.5) {Port Stocks (Mt)};
\draw[ubsred, line width=1.2pt] (131,355) -- (157,355);
\node[anchor=west, inner sep=0] at (159,355) {RHS: Fe Ore CFR 62\% (US\$/dmt)};
% fig 9
\fill[white] (486,358) rectangle (664,384);
\fill[navy] (502,377) rectangle (527,381);
\node[anchor=west, inner sep=0] at (529,379) {Other ex-Top 5 (mthly, lhs)};
\draw[ubsred, line width=1.3pt] (502,365) -- (527,365);
\node[anchor=west, inner sep=0] at (529,365) {Iron Ore 62\% CFR China};
\end{scope}
\end{tikzpicture}
\end{document}
